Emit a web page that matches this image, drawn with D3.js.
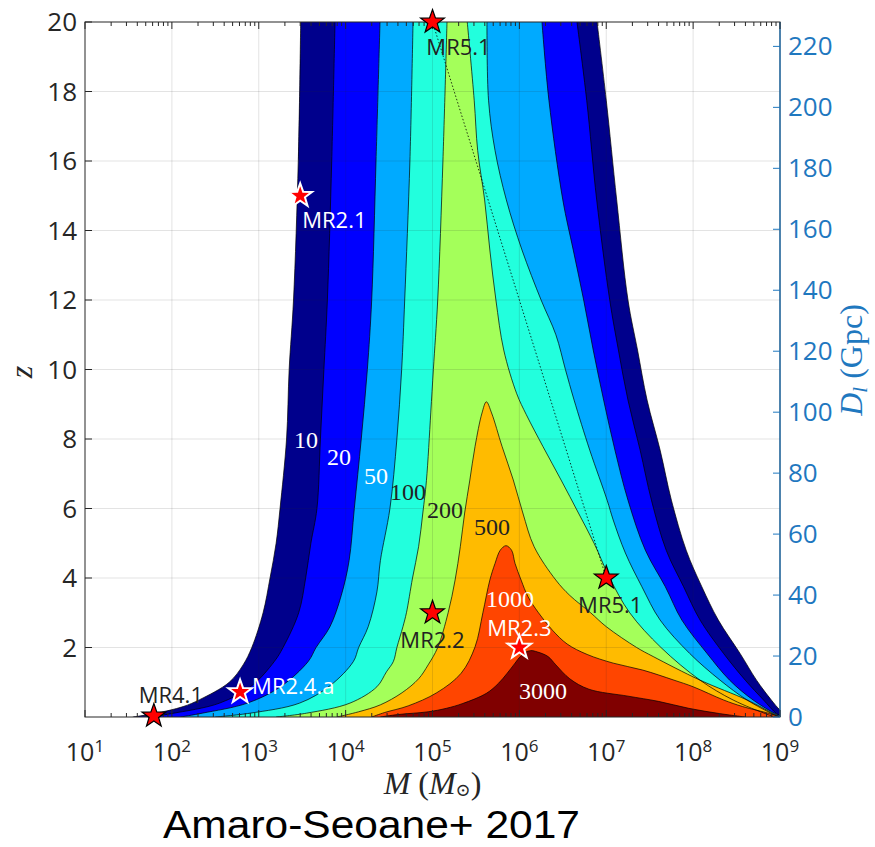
<!DOCTYPE html>
<html><head><meta charset="utf-8">
<script src="https://cdn.jsdelivr.net/npm/d3@7"></script>
<style>body{margin:0;background:#fff}</style>
</head><body>
<svg id="chart" width="875" height="847"></svg>
<script>
// ---------------- data ----------------
const massExponents = [1,2,3,4,5,6,7,8,9];
const zTicks = [2,4,6,8,10,12,14,16,18,20];
const dlTicks = [0,20,40,60,80,100,120,140,160,180,200,220];
const snrLevels = [10,20,50,100,200,500,1000,3000];
// contour boundaries as [log10(M/Msun), z], bottom-left -> top -> bottom-right
const contour10 = [[1.55,0],[1.80,0.1],[2.13,0.3],[2.32,0.5],[2.66,1.0],[2.82,1.5],[2.92,2.0],[3.05,3.0],[3.13,4.0],[3.20,5.0],[3.245,6.0],[3.32,8.0],[3.35,10],[3.40,12],[3.455,16],[3.483,20],
  [6.894,20],[7.00,17.75],[7.12,14.88],[7.25,12],[7.36,10.56],[7.47,9.12],[7.62,7.68],[7.75,6.24],[7.92,4.8],[8.10,3.75],[8.29,2.79],[8.54,1.83],[8.73,1.06],[8.90,0.49],[9.0,0.2],[9.1,0]];
const contour20 = [[1.75,0],[2.0,0.1],[2.55,0.4],[2.92,0.9],[3.18,1.6],[3.28,2.0],[3.46,3.0],[3.54,4.0],[3.60,5.0],[3.67,6.0],[3.71,8.0],[3.75,10],[3.79,12],[3.84,16],[3.878,20],
  [6.663,20],[6.775,17.75],[6.89,14.88],[7.04,12],[7.14,10.56],[7.25,9.12],[7.39,7.68],[7.52,6.24],[7.69,4.8],[7.89,3.75],[8.08,2.79],[8.35,1.83],[8.60,1.06],[8.81,0.49],[8.96,0.1],[9.05,0]];
const contour50 = [[2.1,0],[2.35,0.11],[2.87,0.4],[3.25,0.87],[3.57,1.6],[3.66,2.0],[3.82,2.6],[3.95,3.5],[4.04,4.5],[4.10,6.0],[4.18,8.0],[4.25,10],[4.30,12],[4.35,16],[4.396,20],
  [6.26,20],[6.34,17.75],[6.50,14.88],[6.62,13.44],[6.74,12],[6.85,10.56],[6.97,9.12],[7.10,7.68],[7.25,6.24],[7.45,4.8],[7.68,3.75],[7.87,2.79],[8.16,1.83],[8.42,1.06],[8.69,0.49],[8.96,0.08],[9.05,0]];
const contour100 = [[2.5,0],[2.9,0.11],[3.47,0.4],[3.82,0.9],[4.09,1.6],[4.15,2.0],[4.26,2.6],[4.36,3.6],[4.40,4.5],[4.51,6.0],[4.59,8.0],[4.645,10],[4.68,12],[4.74,16],[4.776,20],
  [5.627,20],[5.645,17.75],[5.72,16.3],[5.85,14.88],[6.03,13.44],[6.25,12],[6.42,11],[6.53,10],[6.63,9.12],[6.81,7.68],[7.01,6.24],[7.08,5.67],[7.22,4.72],[7.41,3.75],[7.62,2.79],[7.96,1.83],[8.31,1.06],[8.62,0.49],[8.92,0.08],[9.0,0]];
const contour200 = [[3.2,0],[3.55,0.11],[4.05,0.4],[4.36,0.87],[4.47,1.3],[4.55,1.6],[4.59,2.0],[4.66,2.6],[4.70,3.0],[4.77,4.0],[4.84,4.9],[4.89,5.9],[4.93,6.8],[4.98,8.75],[5.01,10],[5.06,12],[5.12,16],[5.167,20],
  [5.40,20],[5.48,17.75],[5.52,16.3],[5.60,14.88],[5.66,13.44],[5.73,12],[5.82,10.56],[5.97,9.3],[6.08,8.7],[6.27,7.79],[6.48,6.82],[6.68,5.87],[6.86,5.0],[7.04,4.0],[7.27,3.0],[7.63,2.0],[8.08,1.06],[8.46,0.49],[8.85,0.08],[8.95,0]];
const contour500 = [[3.9,0],[4.15,0.15],[4.40,0.35],[4.65,0.7],[4.84,1.1],[4.95,1.5],[5.06,2.0],[5.18,3.0],[5.26,3.94],[5.32,4.9],[5.37,5.87],[5.43,6.82],[5.49,7.79],[5.57,8.75],[5.62,9.07],
  [5.68,8.75],[5.80,7.79],[5.93,6.82],[6.04,5.87],[6.17,4.9],[6.42,3.94],[6.58,3.5],[6.82,3.0],[7.0,2.6],[7.35,2.0],[7.54,1.74],[8.08,1.06],[8.62,0.49],[8.92,0.1],[9.0,0]];
const contour1000 = [[4.3,0],[4.45,0.13],[4.72,0.32],[5.05,0.7],[5.33,1.26],[5.49,2.02],[5.58,3.0],[5.66,3.94],[5.72,4.42],[5.78,4.8],[5.846,4.93],
  [5.91,4.8],[5.95,4.42],[6.02,3.94],[6.10,3.46],[6.22,3.0],[6.38,2.5],[6.55,2.1],[6.78,1.8],[7.08,1.55],[7.42,1.35],[7.78,1.06],[8.0,0.87],[8.35,0.49],[8.57,0.3],[8.88,0.1],[9.0,0]];
const contour3000 = [[4.4,0],[4.6,0.07],[4.95,0.15],[5.16,0.25],[5.35,0.39],[5.62,0.68],[5.76,0.97],[5.86,1.26],[5.95,1.55],[6.01,1.74],[6.07,1.86],[6.13,1.91],
  [6.21,1.87],[6.33,1.74],[6.42,1.5],[6.58,1.1],[6.80,0.8],[7.25,0.6],[7.6,0.45],[7.95,0.25],[8.3,0.1],[8.6,0]];
const contours = [contour10,contour20,contour50,contour100,contour200,contour500,contour1000,contour3000];
// sources
const sourceNames = ["MR5.1","MR2.1","MR2.2","MR2.3","MR5.1","MR2.4.a","MR4.1"];
const sourceMass = [1e5, 3e3, 1e5, 1e6, 1e7, 6.1e2, 6.2e1];
const sourceZ = [20, 15, 3, 2, 4, 0.72, 0.03];
const trackFrom = [1e5, 20], trackTo = [1e7, 4];
const titleText = "Amaro-Seoane+ 2017";

// ---------------- style ----------------
const levelColors = ["#00008c","#0000ff","#00aaff","#22ffdd","#a4ff5a","#ffbb00","#ff4500","#800000"];
const levelLabelColors = ["#fff","#fff","#fff","#222","#222","#222","#fff","#fff"];
const levelLabelAt = [[3.544,7.97],[3.924,7.48],[4.35,6.96],[4.718,6.50],[5.144,5.96],[5.685,5.47],[5.892,3.42],[6.272,0.75]];
const sourceEdge = ["#000","#fff","#000","#fff","#000","#fff","#000"];
const sourceLabelColor = ["#222","#fff","#222","#fff","#222","#fff","#222"];
const sourceLabelOffset = [[26,33,"middle"],[2,32,"start"],[0,35,"middle"],[0,-12,"middle"],[4,35,"middle"],[12,2,"start"],[17,-13,"middle"]];
const axisGray = "#262626";
const blue = "#1f78bf";
const sans = "'Open Sans', 'Noto Sans', sans-serif";
const serif = "'Liberation Serif', 'DejaVu Serif', serif";

const svg = d3.select("#chart");
const m = {left:85, right:780, top:22, bottom:717};
const x = d3.scaleLog().domain([1e1,1e9]).range([m.left,m.right]);
const y = d3.scaleLinear().domain([0,20]).range([m.bottom,m.top]);
const yR = d3.scaleLinear().domain([0,228]).range([m.bottom,m.top]);

svg.append("defs").append("clipPath").attr("id","clip").append("rect")
  .attr("x",m.left).attr("y",m.top).attr("width",m.right-m.left).attr("height",m.bottom-m.top);
const plot = svg.append("g").attr("clip-path","url(#clip)");

const line = d3.line().x(d=>x(Math.pow(10,d[0]))).y(d=>y(d[1])).curve(d3.curveCatmullRom.alpha(0.5));
// split an open contour (one that leaves through the top) into its two branches
function branches(c){
  for(let k=0;k<c.length-1;k++) if(c[k][1]===20 && c[k+1][1]===20) return [c.slice(0,k+1), c.slice(k+1)];
  return [c];
}
contours.forEach((c,i)=>{
  const f=c[0], l=c[c.length-1];
  const parts = branches(c);
  let d = parts.map((p,j)=> j? line(p).replace(/^M/,"L") : line(p)).join("");
  d += `L${x(Math.pow(10,l[0]))},${y(-1)}L${x(Math.pow(10,f[0]))},${y(-1)}Z`;
  plot.append("path").attr("d",d).attr("fill",levelColors[i]);
});
contours.forEach(c=>{
  branches(c).forEach(p=> plot.append("path").attr("d",line(p)).attr("fill","none").attr("stroke","#000").attr("stroke-width",0.7));
});

// grid
const gx = massExponents.slice(1,-1).map(e=>Math.pow(10,e));
plot.selectAll(".gx").data(gx).join("line").attr("x1",d=>x(d)).attr("x2",d=>x(d)).attr("y1",m.top).attr("y2",m.bottom)
  .attr("stroke",axisGray).attr("stroke-opacity",0.13).attr("stroke-width",1);
plot.selectAll(".gy").data(zTicks.slice(0,-1)).join("line").attr("y1",d=>y(d)).attr("y2",d=>y(d)).attr("x1",m.left).attr("x2",m.right)
  .attr("stroke",axisGray).attr("stroke-opacity",0.13).attr("stroke-width",1);

// dotted track
plot.append("line").attr("x1",x(trackFrom[0])).attr("y1",y(trackFrom[1])).attr("x2",x(trackTo[0])).attr("y2",y(trackTo[1]))
  .attr("stroke","#000").attr("stroke-width",0.8).attr("stroke-dasharray","1.5,2");

// axes
const minor = [];
massExponents.slice(0,-1).forEach(e=>{ for(let j=2;j<=9;j++) minor.push(j*Math.pow(10,e)); });
const majors = massExponents.map(e=>Math.pow(10,e));
const ax = svg.append("g");
ax.append("rect").attr("x",m.left).attr("y",m.top).attr("width",m.right-m.left).attr("height",m.bottom-m.top)
  .attr("fill","none").attr("stroke",axisGray).attr("stroke-width",1);
ax.append("line").attr("x1",m.right).attr("x2",m.right).attr("y1",m.top).attr("y2",m.bottom).attr("stroke",blue).attr("stroke-width",1.2);
[[m.bottom,-1],[m.top,1]].forEach(([yy,s])=>{
  ax.selectAll(null).data(majors).join("line").attr("x1",d=>x(d)).attr("x2",d=>x(d)).attr("y1",yy).attr("y2",yy+s*7).attr("stroke",axisGray);
  ax.selectAll(null).data(minor).join("line").attr("x1",d=>x(d)).attr("x2",d=>x(d)).attr("y1",yy).attr("y2",yy+s*4).attr("stroke",axisGray);
});
ax.selectAll(null).data(zTicks).join("line").attr("x1",m.left).attr("x2",m.left+7).attr("y1",d=>y(d)).attr("y2",d=>y(d)).attr("stroke",axisGray);
ax.selectAll(null).data(dlTicks).join("line").attr("x1",m.right).attr("x2",m.right-7).attr("y1",d=>yR(d)).attr("y2",d=>yR(d)).attr("stroke",blue);

// tick labels
ax.selectAll(null).data(zTicks).join("text").attr("x",m.left-8).attr("y",d=>y(d)).attr("dy","0.36em")
  .attr("text-anchor","end").attr("font-family",sans).attr("font-size",26).attr("fill",axisGray).text(d=>d);
ax.selectAll(null).data(dlTicks).join("text").attr("x",m.right+8).attr("y",d=>yR(d)).attr("dy","0.34em")
  .attr("text-anchor","start").attr("font-family",sans).attr("font-size",26).attr("fill",blue).text(d=>d);
const xl = ax.selectAll(null).data(massExponents).join("text").attr("x",d=>x(Math.pow(10,d))).attr("y",761)
  .attr("text-anchor","middle").attr("font-family",sans).attr("font-size",25).attr("fill",axisGray);
xl.append("tspan").text("10");
xl.append("tspan").attr("dy",-9).attr("font-size",17).text(d=>d);

// axis titles
const xt = svg.append("text").attr("x",x(1e5)).attr("y",794).attr("text-anchor","middle").attr("font-family",serif).attr("font-size",32).attr("fill",axisGray);
xt.append("tspan").attr("font-style","italic").text("M");
xt.append("tspan").text(" (");
xt.append("tspan").attr("font-style","italic").text("M");
xt.append("tspan").attr("font-size",18).attr("dy",2).text("\u2299");
xt.append("tspan").attr("dy",-2).text(")");
svg.append("text").attr("transform","translate(32,372) rotate(-90)").attr("text-anchor","middle")
  .attr("font-family",serif).attr("font-style","italic").attr("font-size",32).attr("fill",axisGray).text("z");
const rt = svg.append("text").attr("transform","translate(862,360) rotate(-90)").attr("text-anchor","middle")
  .attr("font-family",serif).attr("font-size",32).attr("fill",blue);
rt.append("tspan").attr("font-style","italic").text("D");
rt.append("tspan").attr("font-style","italic").attr("font-size",21).attr("dy",5).text("l");
rt.append("tspan").attr("dy",-5).text(" (Gpc)");

// contour labels
svg.selectAll(null).data(snrLevels).join("text")
  .attr("x",(d,i)=>x(Math.pow(10,levelLabelAt[i][0]))).attr("y",(d,i)=>y(levelLabelAt[i][1])).attr("dy","0.35em")
  .attr("text-anchor","middle").attr("font-family",serif).attr("font-size",24).attr("fill",(d,i)=>levelLabelColors[i]).text(d=>d);

// stars
function starPath(cx,cy,R){ const r=R*0.4; let p=""; for(let k=0;k<10;k++){ const a=-Math.PI/2+k*Math.PI/5, rr=k%2?r:R; p+=(k?"L":"M")+(cx+rr*Math.cos(a)).toFixed(2)+","+(cy+rr*Math.sin(a)).toFixed(2);} return p+"Z"; }
sourceNames.forEach((n,i)=>{
  const cx=x(sourceMass[i]), cy=y(sourceZ[i]);
  svg.append("path").attr("d",starPath(cx,cy,12.5)).attr("fill","#ff0000").attr("stroke",sourceEdge[i])
    .attr("stroke-width",sourceEdge[i]==="#fff"?2:1.2).attr("stroke-linejoin","miter");
  const o=sourceLabelOffset[i];
  svg.append("text").attr("x",cx+o[0]).attr("y",cy+o[1]).attr("text-anchor",o[2]).attr("font-family",sans)
    .attr("font-size",22).attr("fill",sourceLabelColor[i]).text(n);
});

// title
svg.append("text").attr("x",163).attr("y",838).attr("textLength",417).attr("lengthAdjust","spacingAndGlyphs")
  .attr("font-family","'Liberation Sans', Arial, sans-serif").attr("font-size",38).attr("fill","#000").text(titleText);
</script>
</body></html>
